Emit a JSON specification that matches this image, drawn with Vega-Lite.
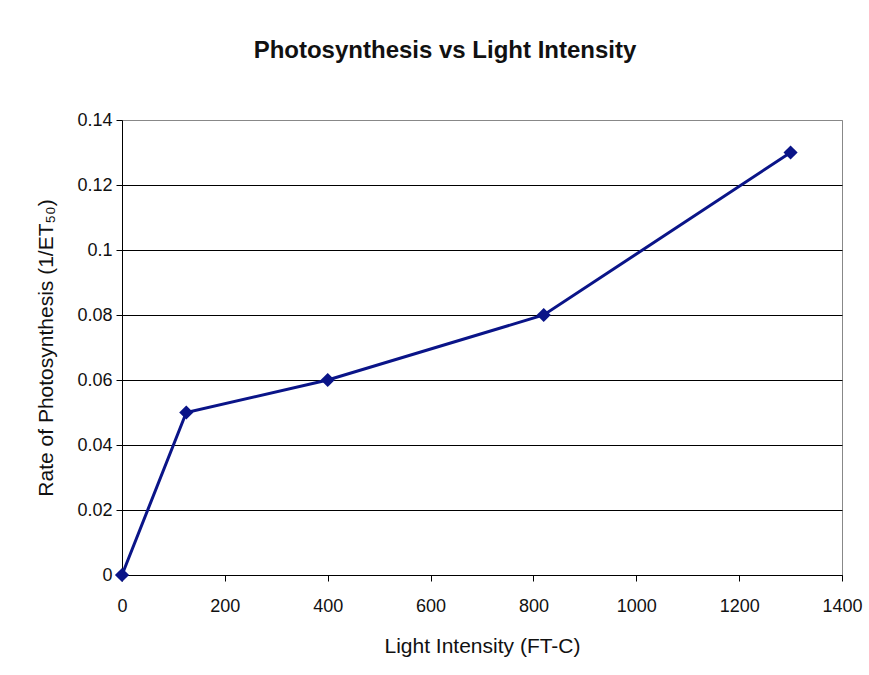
{
  "$schema": "https://vega.github.io/schema/vega-lite/v6.json",
  "autosize": {"type": "none"},
  "width": 720,
  "height": 455,
  "padding": {"left": 122, "top": 120, "right": 27, "bottom": 100},
  "background": "white",
  "title": {
    "text": "Photosynthesis vs Light Intensity",
    "font": "Liberation Sans",
    "fontSize": 24,
    "fontWeight": "bold",
    "color": "#111",
    "anchor": "middle",
    "dx": -37,
    "offset": 48
  },
  "config": {
    "view": {"stroke": "#888", "strokeWidth": 1},
    "axis": {
      "labelFont": "Liberation Sans",
      "titleFont": "Liberation Sans",
      "labelFontSize": 18,
      "titleFontSize": 21,
      "titleFontWeight": "normal",
      "labelColor": "#111",
      "titleColor": "#111",
      "domainColor": "black",
      "tickColor": "black",
      "tickSize": 6
    }
  },
  "data": {
    "values": [
      {"intensity": 0, "rate": 0},
      {"intensity": 125, "rate": 0.05},
      {"intensity": 400, "rate": 0.06},
      {"intensity": 820, "rate": 0.08},
      {"intensity": 1300, "rate": 0.13}
    ]
  },
  "encoding": {
    "x": {
      "field": "intensity",
      "type": "quantitative",
      "scale": {"domain": [0, 1400], "nice": false, "zero": true},
      "axis": {
        "title": "Light Intensity (FT-C)",
        "values": [0, 200, 400, 600, 800, 1000, 1200, 1400],
        "format": "d",
        "grid": false,
        "labelPadding": 16,
        "titlePadding": 20,
        "labelFlush": false
      }
    },
    "y": {
      "field": "rate",
      "type": "quantitative",
      "scale": {"domain": [0, 0.14], "nice": false},
      "axis": {
        "title": "Rate of Photosynthesis (1/ET₅₀)",
        "values": [0, 0.02, 0.04, 0.06, 0.08, 0.1, 0.12, 0.14],
        "format": "~f",
        "grid": true,
        "gridColor": {"condition": {"test": "datum.value >= 0.139", "value": "#888"}, "value": "black"},
        "gridOpacity": 1,
        "labelPadding": 4,
        "titlePadding": 20,
        "labelFlush": false
      }
    }
  },
  "layer": [
    {
      "mark": {"type": "line", "color": "#0a1488", "strokeWidth": 3}
    },
    {
      "mark": {"type": "point", "shape": "diamond", "filled": true, "color": "#0a1488", "size": 200, "opacity": 1}
    }
  ]
}
